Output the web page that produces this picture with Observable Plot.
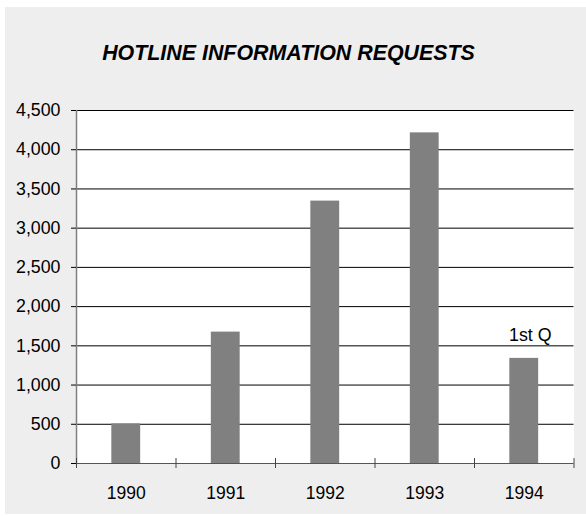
<!DOCTYPE html>
<html>
<head>
<meta charset="utf-8">
<script src="https://cdn.jsdelivr.net/npm/d3@7"></script>
<script src="https://cdn.jsdelivr.net/npm/@observablehq/plot@0.6"></script>
<style>
  html, body { margin: 0; padding: 0; background: #ffffff; }
  #wrap { position: relative; width: 586px; height: 516px; overflow: hidden; font-family: "Liberation Sans", Arial, sans-serif; }
  #panel { position: absolute; left: 5px; top: 7px; width: 581px; height: 507px; background: #eeeeee; }
  #title { position: absolute; left: 0; top: 41px; width: 577px; text-align: center; font-size: 21.4px; line-height: 24px; font-weight: bold; font-style: italic; color: #000; }
  #chart { position: absolute; left: 0; top: 95px; }
</style>
</head>
<body>
<div id="wrap">
  <div id="panel"></div>
  <div id="title">HOTLINE INFORMATION REQUESTS</div>
  <div id="chart"></div>
</div>
<script>
const years = [1990, 1991, 1992, 1993, 1994];
const requests = [505, 1675, 3345, 4215, 1340];
const yTicks = [0, 500, 1000, 1500, 2000, 2500, 3000, 3500, 4000, 4500];
const noteYear = 1994;
const noteText = "1st Q";

const data = years.map((year, i) => ({year, value: requests[i]}));
const bounds = [years[0] - 0.5, ...years.map(y => y + 0.5)];
const barHalf = 0.145;

const chart = Plot.plot({
  width: 586,
  height: 421,
  marginLeft: 76,
  marginRight: 12.5,
  marginTop: 15,
  marginBottom: 53,
  style: {background: "transparent", overflow: "visible", fontFamily: "'Liberation Sans', Arial, sans-serif", color: "#000"},
  x: {type: "linear", domain: [bounds[0], bounds[bounds.length - 1]]},
  y: {domain: [0, 4500]},
  marks: [
    Plot.frame({fill: "white", stroke: "none"}),
    Plot.ruleY(yTicks.filter(d => d > 0), {stroke: "#000", strokeWidth: 1}),
    Plot.rectY(data, {x1: d => d.year - barHalf, x2: d => d.year + barHalf, y: "value", fill: "#808080"}),
    Plot.ruleY([0], {stroke: "#555", strokeWidth: 1.2}),
    Plot.ruleX([bounds[0]], {y1: 0, y2: 4500, stroke: "#808080", strokeWidth: 1.5}),
    Plot.axisY({ticks: yTicks, tickSize: 5, tickPadding: 11, tickFormat: d3.format(","), fontSize: 17.8, label: null, stroke: "#000"}),
    Plot.axisX({ticks: bounds, tickSize: 10, dy: -5, tickFormat: () => "", label: null, stroke: "#444"}),
    Plot.axisX({ticks: years, tickSize: 0, tickPadding: 23, tickFormat: d => String(d), fontSize: 17.5, label: null}),
    Plot.text(data.filter(d => d.year === noteYear), {x: "year", y: "value", text: () => noteText, dx: 6, dy: -17, lineAnchor: "bottom", fontSize: 17.8, fill: "#000"})
  ]
});
document.getElementById("chart").appendChild(chart);
</script>
</body>
</html>
